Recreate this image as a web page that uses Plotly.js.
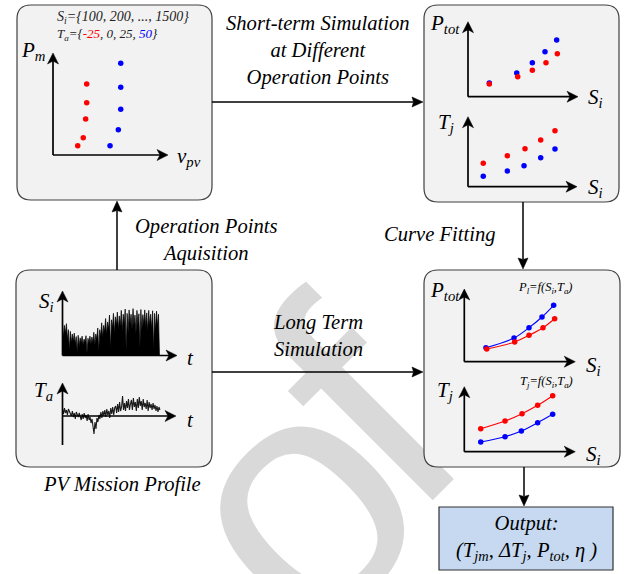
<!DOCTYPE html>
<html>
<head>
<meta charset="utf-8">
<script src="https://cdn.plot.ly/plotly-3.0.1.min.js"></script>
<style>
  html, body { margin: 0; padding: 0; background: #fff; }
  #chart { width: 628px; height: 574px; }
</style>
</head>
<body>
<div id="chart"></div>
<script>
// ---------- operating points (P_m vs v_pv), Ta = -25 (red) and Ta = 50 (blue) ----------
const opVpvCold = [21.5, 26.3, 28.4, 29.3, 29.3];
const opPmCold  = [9.1, 17.0, 35.3, 51.3, 69.6];
const opVpvHot  = [49.6, 56.8, 58.9, 58.9, 58.9];
const opPmHot   = [9.1, 24.8, 44.8, 66.4, 89.9];

// ---------- short-term simulation results vs S_i ----------
const simSiPtotCold = [19.4, 45.2, 58.5, 70.9, 81.2];
const simPtotCold   = [16.9, 26.7, 35.2, 45.3, 57.3];
const simSiPtotHot  = [19.4, 44.3, 58.5, 70.0, 80.6];
const simPtotHot    = [18.3, 31.6, 45.3, 60.0, 75.6];
const simSiTjCold   = [14.0, 36.1, 52.3, 66.7, 79.8];
const simTjCold     = [33.4, 44.3, 54.3, 66.7, 80.0];
const simSiTjHot    = [14.0, 36.1, 51.4, 66.7, 79.8];
const simTjHot      = [14.9, 22.4, 30.0, 41.4, 53.9];

// ---------- curve-fitted results vs S_i ----------
const fitSiPtotHot  = [19.5, 44.8, 58.3, 70.0, 80.5];
const fitPtotHot    = [19.3, 32.6, 46.8, 61.5, 77.6];
const fitSiPtotCold = [20.2, 45.4, 58.3, 70.9, 81.4];
const fitPtotCold   = [17.5, 27.1, 36.3, 46.8, 59.1];
const fitSiTjCold   = [14.8, 36.7, 52.0, 66.1, 79.6];
const fitTjCold     = [35.4, 47.2, 58.5, 71.4, 86.2];
const fitSiTjHot    = [14.8, 36.7, 51.4, 66.1, 79.6];
const fitTjHot      = [14.9, 23.1, 31.8, 44.6, 57.5];

// ---------- mission profile: irradiance S_i (W/m2) and ambient temperature T_a (degC) ----------
const siProfile = [
  760, 420, 700, 520, 740, 380, 600, 120, 560, 300,
  500, 330, 520, 260, 440, 90, 470, 220, 410, 300,
  450, 250, 380, 310, 460, 60, 400, 290, 450, 260,
  430, 300, 540, 240, 500, 380, 640, 100, 600, 450,
  760, 420, 700, 560, 860, 480, 780, 620, 940, 150,
  830, 640, 980, 520, 900, 700, 1010, 600, 920, 680,
  1050, 560, 960, 720, 1080, 120, 980, 540, 1060, 730,
  960, 620, 1090, 700, 940, 520, 1050, 710, 970, 180,
  1070, 580, 950, 720, 1060, 660, 990, 560, 1050, 700,
  960, 620, 1040, 130, 980, 600, 1030, 690, 960, 0
];
const taProfile = [
  7, 2, 8, 3, 6, 1, 7, 4, 3, 0,
  5, -1, 3, -3, 4, 0, -1, 3, -2, -4,
  2, -3, 3, -2, 1, -5, 2, -4, -1, -7,
  -3, -10, -18, -6, -13, -2, -6, 1, -3, 4,
  -2, 5, 0, 6, -1, 7, 1, 5, -2, 8,
  2, 9, 1, 8, 10, 3, 12, 4, 14, 5,
  9, 20, 6, 13, 5, 15, 8, 17, 6, 12,
  16, 6, 18, 9, 14, 5, 17, 8, 19, 10,
  15, 6, 17, 9, 13, 7, 16, 5, 14, 8,
  12, 6, 13, 7, 11, 5, 10, 4, 9, 6
];
const profileIndex = siProfile.map((_, i) => i);

// ---------- text ----------
const siSetText = 'S<sub>i</sub>={100, 200, ..., 1500}';
const taSetParts = ['-25', '0', '25', '50'];

// ---------- drawing ----------
const W = 628, H = 574;
const serif = 'Liberation Serif';
const RED = '#ff0000', BLUE = '#0000ff';

// small panels inside the boxes, in page pixels: origin, arrow tips, lower end of the y axis
const panels = {
  2: { ox: 53,    oy: 155,   xt: 168,   yt: 53,    yb: 155,   xr: [0, 100],   yr: [0, 100] },
  3: { ox: 468,   oy: 96.7,  xt: 578,   yt: 21.7,  yb: 96.7,  xr: [0, 100],   yr: [0, 100] },
  4: { ox: 468,   oy: 186.7, xt: 577,   yt: 116.7, yb: 186.7, xr: [0, 100],   yr: [0, 100] },
  5: { ox: 464.3, oy: 361.7, xt: 575.3, yt: 289,   yb: 361.7, xr: [0, 100],   yr: [0, 100] },
  6: { ox: 464.3, oy: 451.7, xt: 575.3, yt: 386.7, yb: 451.7, xr: [0, 100],   yr: [0, 100] },
  7: { ox: 62.5,  oy: 355.5, xt: 177,   yt: 291,   yb: 355.5, xr: [0, 116.9], yr: [0, 1500] },
  8: { ox: 62.5,  oy: 416,   xt: 176,   yt: 383,   yb: 445,   xr: [0, 115.3], yr: [-29, 33] }
};

function rr(x0, y0, x1, y1, r) {
  return `M${x0 + r},${y0} L${x1 - r},${y0} Q${x1},${y0} ${x1},${y0 + r} L${x1},${y1 - r} ` +
         `Q${x1},${y1} ${x1 - r},${y1} L${x0 + r},${y1} Q${x0},${y1} ${x0},${y1 - r} ` +
         `L${x0},${y0 + r} Q${x0},${y0} ${x0 + r},${y0} Z`;
}

// straight arrow drawn as a line plus a filled, slightly notched head
function arrowShapes(x0, y0, x1, y1, width, len, half, notch) {
  const dx = x1 - x0, dy = y1 - y0, d = Math.hypot(dx, dy);
  const ux = dx / d, uy = dy / d, px = -uy, py = ux;
  const bx = x1 - len * ux, by = y1 - len * uy;
  const nx = x1 - (len - notch) * ux, ny = y1 - (len - notch) * uy;
  return [
    { type: 'line', xref: 'x', yref: 'y', layer: 'above', x0, y0, x1: nx, y1: ny,
      line: { color: '#000', width } },
    { type: 'path', xref: 'x', yref: 'y', layer: 'above',
      path: `M${x1},${y1} L${bx + half * px},${by + half * py} L${nx},${ny} L${bx - half * px},${by - half * py} Z`,
      fillcolor: '#000', line: { color: '#000', width: 0.5 } }
  ];
}

function dots(x, y, color, n) {
  return { type: 'scatter', mode: 'markers', x, y, xaxis: 'x' + n, yaxis: 'y' + n,
           marker: { color, size: 5.5 }, hoverinfo: 'skip' };
}
function fitLine(x, y, color, n) {
  return { type: 'scatter', mode: 'lines', x, y, xaxis: 'x' + n, yaxis: 'y' + n,
           line: { color, width: 1.1, shape: 'spline', smoothing: 1 }, hoverinfo: 'skip' };
}

const traces = [
  { type: 'scatter', x: [], y: [], xaxis: 'x', yaxis: 'y', hoverinfo: 'skip' },
  dots(opVpvCold, opPmCold, RED, 2),
  dots(opVpvHot, opPmHot, BLUE, 2),
  dots(simSiPtotHot, simPtotHot, BLUE, 3),
  dots(simSiPtotCold, simPtotCold, RED, 3),
  dots(simSiTjCold, simTjCold, RED, 4),
  dots(simSiTjHot, simTjHot, BLUE, 4),
  fitLine(fitSiPtotHot, fitPtotHot, BLUE, 5),
  fitLine(fitSiPtotCold, fitPtotCold, RED, 5),
  dots(fitSiPtotHot, fitPtotHot, BLUE, 5),
  dots(fitSiPtotCold, fitPtotCold, RED, 5),
  fitLine(fitSiTjCold, fitTjCold, RED, 6),
  fitLine(fitSiTjHot, fitTjHot, BLUE, 6),
  dots(fitSiTjCold, fitTjCold, RED, 6),
  dots(fitSiTjHot, fitTjHot, BLUE, 6),
  { type: 'scatter', mode: 'lines', x: profileIndex, y: siProfile, xaxis: 'x7', yaxis: 'y7',
    fill: 'tozeroy', fillcolor: '#000', line: { color: '#000', width: 0.7 }, hoverinfo: 'skip' },
  { type: 'scatter', mode: 'lines', x: profileIndex, y: taProfile, xaxis: 'x8', yaxis: 'y8',
    line: { color: '#1a1a1a', width: 1.1 }, hoverinfo: 'skip' }
];

// boxes
const boxStyle = { type: 'path', xref: 'x', yref: 'y', layer: 'below',
                   fillcolor: '#f2f2f2', line: { color: '#404040', width: 1.2 } };
const shapes = [
  Object.assign({ path: rr(17, 5, 212, 200, 14) }, boxStyle),
  Object.assign({ path: rr(424, 5, 619, 202, 14) }, boxStyle),
  Object.assign({ path: rr(424, 270, 620, 467, 14) }, boxStyle),
  Object.assign({ path: rr(16, 270, 212, 467, 14) }, boxStyle),
  { type: 'rect', xref: 'x', yref: 'y', layer: 'below', x0: 439, y0: 507, x1: 613, y1: 570,
    fillcolor: '#c6d9f1', line: { color: '#303030', width: 1.2 } },
  // flow arrows between the blocks
  ...arrowShapes(212, 102, 423, 102, 1.5, 11, 5, 1.5),
  ...arrowShapes(117, 270, 117, 201, 1.5, 11, 5, 1.5),
  ...arrowShapes(523, 202, 523, 269, 1.5, 11, 5, 1.5),
  ...arrowShapes(212, 372, 423, 372, 1.5, 11, 5, 1.5),
  ...arrowShapes(524, 467, 524, 506, 1.5, 11, 5, 1.5)
];
// axis arrows of the small panels
Object.values(panels).forEach(p => {
  shapes.push(...arrowShapes(p.ox, p.oy, p.xt, p.oy, 1.7, 11, 5.5, 3));
  shapes.push(...arrowShapes(p.ox, p.yb, p.ox, p.yt, 1.7, 11, 5.5, 3));
});

function label(text, x, y, size, extra) {
  return Object.assign({ text, x, y, xref: 'x', yref: 'y', showarrow: false,
    font: { family: serif, size, color: '#000' }, xanchor: 'center', yanchor: 'middle' }, extra || {});
}

const taSetText = 'T<sub>a</sub>={<span style="color:' + RED + '">' + taSetParts[0] + '</span>, ' +
  taSetParts[1] + ', ' + taSetParts[2] + ', <span style="color:' + BLUE + '">' + taSetParts[3] + '</span>}';

const wmFont = { family: 'Liberation Sans', size: 340, color: '#d9d9d9' };
const annotations = [
  // large background letters
  { text: 'o', x: 292, y: 500, xref: 'x', yref: 'y', showarrow: false, textangle: -45,
    font: wmFont, xanchor: 'center', yanchor: 'middle' },
  { text: 'f', x: 362, y: 404, xref: 'x', yref: 'y', showarrow: false, textangle: -45,
    font: wmFont, xanchor: 'center', yanchor: 'middle' },

  // flow labels
  label('<i>Short-term Simulation<br>at Different<br>Operation Points</i>', 318, 50, 20.6),
  label('<i>Operation Points<br>Aquisition</i>', 206, 240, 20.6),
  label('<i>Curve Fitting</i>', 440, 234, 20.6),
  label('<i>Long Term<br>Simulation</i>', 318, 335, 20.6),
  label('<i>PV Mission Profile</i>', 122, 484, 20.6),
  label('<i>Output:<br>(T<sub>jm</sub>, ΔT<sub>j</sub>, P<sub>tot</sub>, η )</i>', 526, 538, 20.6),

  // box 1
  label('<i>' + siSetText + '</i>', 55, 17, 14, { xanchor: 'left', font: { family: serif, size: 14, color: '#222' } }),
  label('<i>' + taSetText + '</i>', 55, 34, 13, { xanchor: 'left', font: { family: serif, size: 13, color: '#222' } }),
  label('<i>P<sub>m</sub></i>', 33, 51, 21),
  label('<i>v<sub>pv</sub></i>', 189, 157, 21),

  // box 2
  label('<i>P<sub>tot</sub></i>', 445, 24, 21),
  label('<i>S<sub>i</sub></i>', 595, 98, 21),
  label('<i>T<sub>j</sub></i>', 446, 123, 21),
  label('<i>S<sub>i</sub></i>', 595, 188, 21),

  // box 3
  label('<i>P<sub>tot</sub></i>', 445, 291, 21),
  label('<i>S<sub>i</sub></i>', 593, 366, 21),
  label('<i>T<sub>j</sub></i>', 445, 391, 21),
  label('<i>S<sub>i</sub></i>', 593, 455, 21),
  label('<i>P<sub>l</sub>=f(S<sub>i</sub>,T<sub>a</sub>)</i>', 545, 288, 12.5),
  label('<i>T<sub>j</sub>=f(S<sub>i</sub>,T<sub>a</sub>)</i>', 546, 382, 12.5),

  // box 4
  label('<i>S<sub>i</sub></i>', 46, 302, 21),
  label('<i>t</i>', 190, 358, 21),
  label('<i>T<sub>a</sub></i>', 43, 391, 21),
  label('<i>t</i>', 190, 420, 21)
];

const layout = {
  width: W, height: H,
  margin: { l: 0, r: 0, t: 0, b: 0, pad: 0 },
  paper_bgcolor: '#fff', plot_bgcolor: 'rgba(0,0,0,0)',
  showlegend: false,
  font: { family: serif },
  xaxis: { domain: [0, 1], range: [0, W], visible: false, fixedrange: true },
  yaxis: { domain: [0, 1], range: [H, 0], visible: false, fixedrange: true },
  shapes, annotations
};
Object.entries(panels).forEach(([n, p]) => {
  layout['xaxis' + n] = { domain: [p.ox / W, p.xt / W], range: p.xr, visible: false,
                          fixedrange: true, anchor: 'y' + n };
  layout['yaxis' + n] = { domain: [1 - p.yb / H, 1 - p.yt / H], range: p.yr, visible: false,
                          fixedrange: true, anchor: 'x' + n };
});

const gd = document.getElementById('chart');
Plotly.newPlot(gd, traces, layout, { staticPlot: true, displayModeBar: false }).then(() => {
  // keep the large background letters underneath every box, line and label
  const below = gd.querySelector('.layer-below');
  ['1', '0'].forEach(i => {
    const g = gd.querySelector('.infolayer .annotation[data-index="' + i + '"]');
    if (g && below) below.insertBefore(g, below.firstChild);
  });
});
</script>
</body>
</html>
